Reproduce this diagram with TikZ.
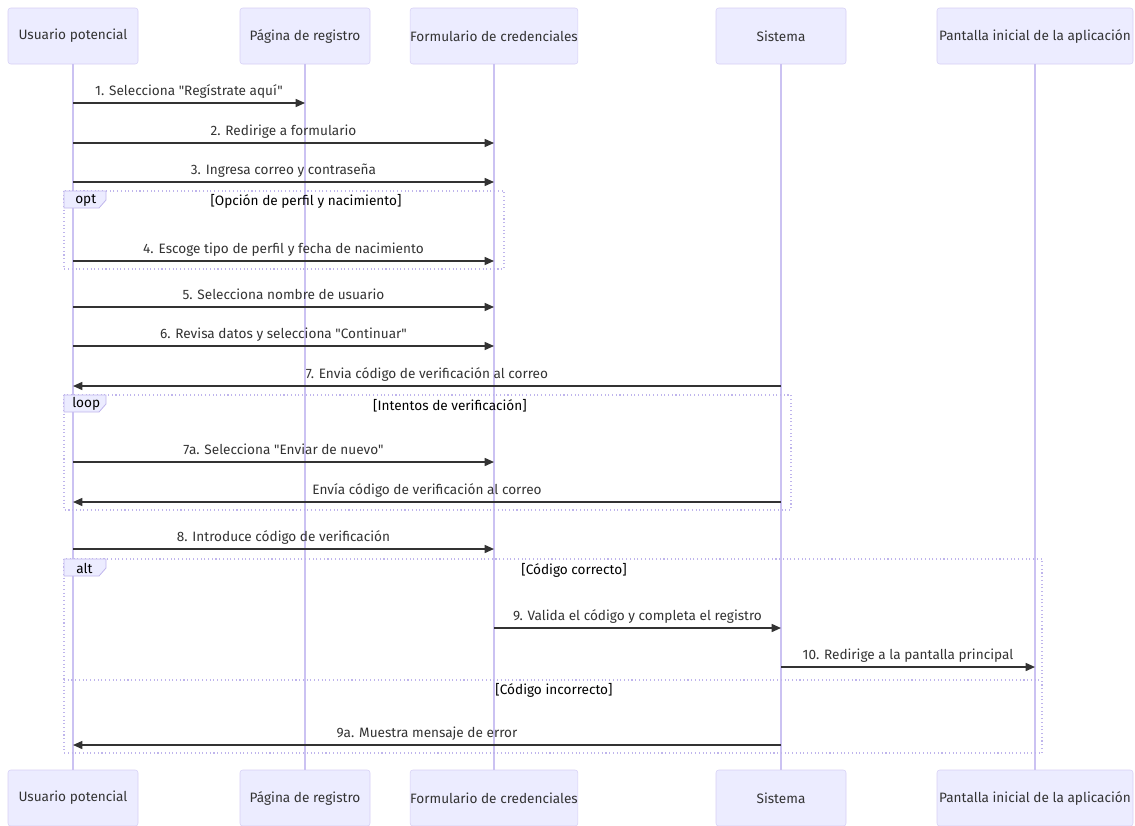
\documentclass[tikz,border=0pt]{standalone}
\usepackage{fontspec}
\setmainfont{Fira Sans}[Ligatures=TeXOff]
\usetikzlibrary{positioning,arrows.meta}
\definecolor{boxfill}{HTML}{ECECFF}
\definecolor{boxline}{HTML}{D6CFF5}
\definecolor{lifecol}{HTML}{CBC2F2}
\definecolor{framecol}{HTML}{BFB5EC}
\definecolor{msgcol}{HTML}{333333}

\tikzset{
  actor/.style={draw=boxline,fill=boxfill,rounded corners=2pt,inner sep=0pt,
    minimum height=42pt,font=\fontsize{10.2}{12}\selectfont,text=msgcol},
  lifeline/.style={draw=lifecol,line width=0.9pt},
  msg/.style={draw=msgcol,line width=1.1pt,-{Triangle[length=7pt,width=6pt]}},
  msglabel/.style={midway,anchor=base,yshift=6pt,inner sep=0pt,
    font=\fontsize{10.2}{12}\selectfont,text=msgcol},
  frame/.style={draw=framecol,dotted,line width=0.8pt},
  tabbox/.style={draw=framecol,fill=boxfill,line width=0.6pt},
  frametext/.style={inner sep=0pt,font=\fontsize{10.2}{12}\selectfont,text=black}
}

% one message between two lifelines at height #3
\newcommand{\msgline}[4]{\draw[msg] (#1 |- 0,#3) -- node[msglabel]{#4} (#2 |- 0,#3);}

\begin{document}
\begin{tikzpicture}[x=0.75pt,y=-0.75pt]
\useasboundingbox (0,0) rectangle (1135,825);

% participants, top
\node[actor,minimum width=97.5pt] (usr) at (73,36) {Usuario potencial};
\node[actor,minimum width=97.5pt] (pag) at (305,36) {Página de registro};
\node[actor,minimum width=124.5pt] (frm) at (494,36) {Formulario de credenciales};
\node[actor,minimum width=97.5pt] (sis) at (781,36) {Sistema};
\node[actor,minimum width=147pt] (pan) at (1035,36) {Pantalla inicial de la aplicación};

% participants, bottom
\node[actor,minimum width=97.5pt] (usrb) at (73,798) {Usuario potencial};
\node[actor,minimum width=97.5pt] (pagb) at (305,798) {Página de registro};
\node[actor,minimum width=124.5pt] (frmb) at (494,798) {Formulario de credenciales};
\node[actor,minimum width=97.5pt] (sisb) at (781,798) {Sistema};
\node[actor,minimum width=147pt] (panb) at (1035,798) {Pantalla inicial de la aplicación};

% lifelines
\foreach \a in {usr,pag,frm,sis,pan}
  \draw[lifeline] (\a.south) -- (\a b.north);

% frames
\draw[frame] (64,191) rectangle (504,269);
\draw[tabbox] (64,191) -- (106,191) -- (106,200) -- (99,208) -- (64,208) -- cycle;
\node[frametext,anchor=west] (optlbl) at (75,200) {opt};
\node[frametext] (opttitle) at (306,201) {[Opción de perfil y nacimiento]};

\draw[frame] (64,395) rectangle (791,510);
\draw[tabbox] (64,395) -- (106,395) -- (106,404) -- (99,412) -- (64,412) -- cycle;
\node[frametext,anchor=west] (looplbl) at (72,404) {loop};
\node[frametext] (looptitle) at (450,406) {[Intentos de verificación]};

\draw[frame] (64,559) rectangle (1042,753);
\draw[frame] (64,680) -- (1042,680);
\draw[tabbox] (64,559) -- (106,559) -- (106,568) -- (99,576) -- (64,576) -- cycle;
\node[frametext,anchor=west] (altlbl) at (76,568) {alt};
\node[frametext] (alttitle) at (574,570) {[Código correcto]};
\node[frametext] (elsetitle) at (554,690) {[Código incorrecto]};

% messages
\msgline{usr}{pag}{103}{1. Selecciona "Regístrate aquí"}
\msgline{usr}{frm}{143}{2. Redirige a formulario}
\msgline{usr}{frm}{182}{3. Ingresa correo y contraseña}
\msgline{usr}{frm}{261}{4. Escoge tipo de perfil y fecha de nacimiento}
\msgline{usr}{frm}{307}{5. Selecciona nombre de usuario}
\msgline{usr}{frm}{346}{6. Revisa datos y selecciona "Continuar"}
\msgline{sis}{usr}{386}{7. Envia código de verificación al correo}
\msgline{usr}{frm}{462}{7a. Selecciona "Enviar de nuevo"}
\msgline{sis}{usr}{502}{Envía código de verificación al correo}
\msgline{usr}{frm}{549}{8. Introduce código de verificación}
\msgline{frm}{sis}{628}{9. Valida el código y completa el registro}
\msgline{sis}{pan}{667}{10. Redirige a la pantalla principal}
\msgline{sis}{usr}{745}{9a. Muestra mensaje de error}
\end{tikzpicture}
\end{document}
